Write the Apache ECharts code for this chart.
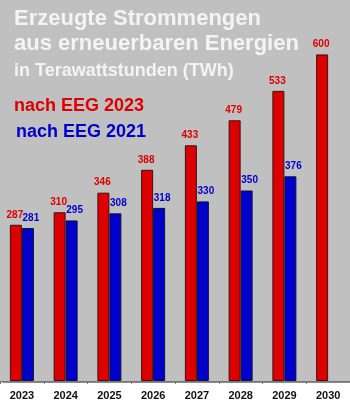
<!DOCTYPE html>
<html>
<head>
<meta charset="utf-8">
<script src="https://cdn.jsdelivr.net/npm/echarts@6/dist/echarts.min.js"></script>
<style>
  html, body { margin:0; padding:0; background:#ffffff; }
  #chart { width:350px; height:411px; }
</style>
</head>
<body>
<div id="chart"></div>
<script>
var years = ['2023', '2024', '2025', '2026', '2027', '2028', '2029', '2030'];
var eeg2023 = [287, 310, 346, 388, 433, 479, 533, 600];
var eeg2021 = [281, 295, 308, 318, 330, 350, 376, '-'];

(function(){
  var el = document.getElementById('chart');
  var c = echarts.init(el);
  var red = '#dd0000';
  var blue = '#0000cc';
  var bg = '#c0c0c0';
  var white = '#f4f4f4';
  var font = 'Liberation Sans, Arial, sans-serif';
  var narrow = 'Liberation Sans Narrow, Arial Narrow, Liberation Sans, sans-serif';

  c.setOption({
    animation:false,
    backgroundColor:'#ffffff',
    grid:{left:-1, right:-1, top:0, bottom:30, containLabel:false,
      show:true, backgroundColor:bg, borderWidth:0},
    graphic:[{type:'rect', left:0, top:0, z:-1,
      shape:{x:0.5, y:0.5, width:349, height:380},
      style:{fill:'none', stroke:'#8a8a8a', lineWidth:1}}],
    title:[
      {text:'Erzeugte Strommengen', left:14, top:8, padding:0,
        textStyle:{color:white, fontSize:22, fontWeight:'bold', fontFamily:font}},
      {text:'aus erneuerbaren Energien', left:14, top:33, padding:0,
        textStyle:{color:white, fontSize:22, fontWeight:'bold', fontFamily:font}},
      {text:'in Terawattstunden (TWh)', left:14, top:62, padding:0,
        textStyle:{color:white, fontSize:18, fontWeight:'bold', fontFamily:font}},
      {text:'nach EEG 2023', left:14, top:97, padding:0,
        textStyle:{color:red, fontSize:18, fontWeight:'bold', fontFamily:font}},
      {text:'nach EEG 2021', left:16, top:123, padding:0,
        textStyle:{color:blue, fontSize:18, fontWeight:'bold', fontFamily:font}}
    ],
    xAxis:{type:'category', data:years,
      axisLine:{lineStyle:{color:'#777777', width:1}},
      axisTick:{show:true, length:3, lineStyle:{color:'#777777'}},
      axisLabel:{color:'#111111', fontSize:11, fontWeight:'bold', fontFamily:font, margin:9}},
    yAxis:{type:'value', min:0, max:700, show:false, splitLine:{show:false}},
    series:[
      {type:'bar', data:eeg2023, barWidth:12, barGap:'0%',
        itemStyle:{color:red, borderColor:'#3a1010', borderWidth:1},
        label:{show:true, position:'top', distance:5, offset:[-1,0], color:red, fontSize:10,
          fontWeight:'bold', fontFamily:narrow}},
      {type:'bar', data:eeg2021, barWidth:12,
        itemStyle:{color:blue, borderColor:'#10103a', borderWidth:1},
        label:{show:true, position:'top', distance:5, offset:[3,0], color:blue, fontSize:10,
          fontWeight:'bold', fontFamily:narrow}}
    ]
  });
})();
</script>
</body>
</html>
